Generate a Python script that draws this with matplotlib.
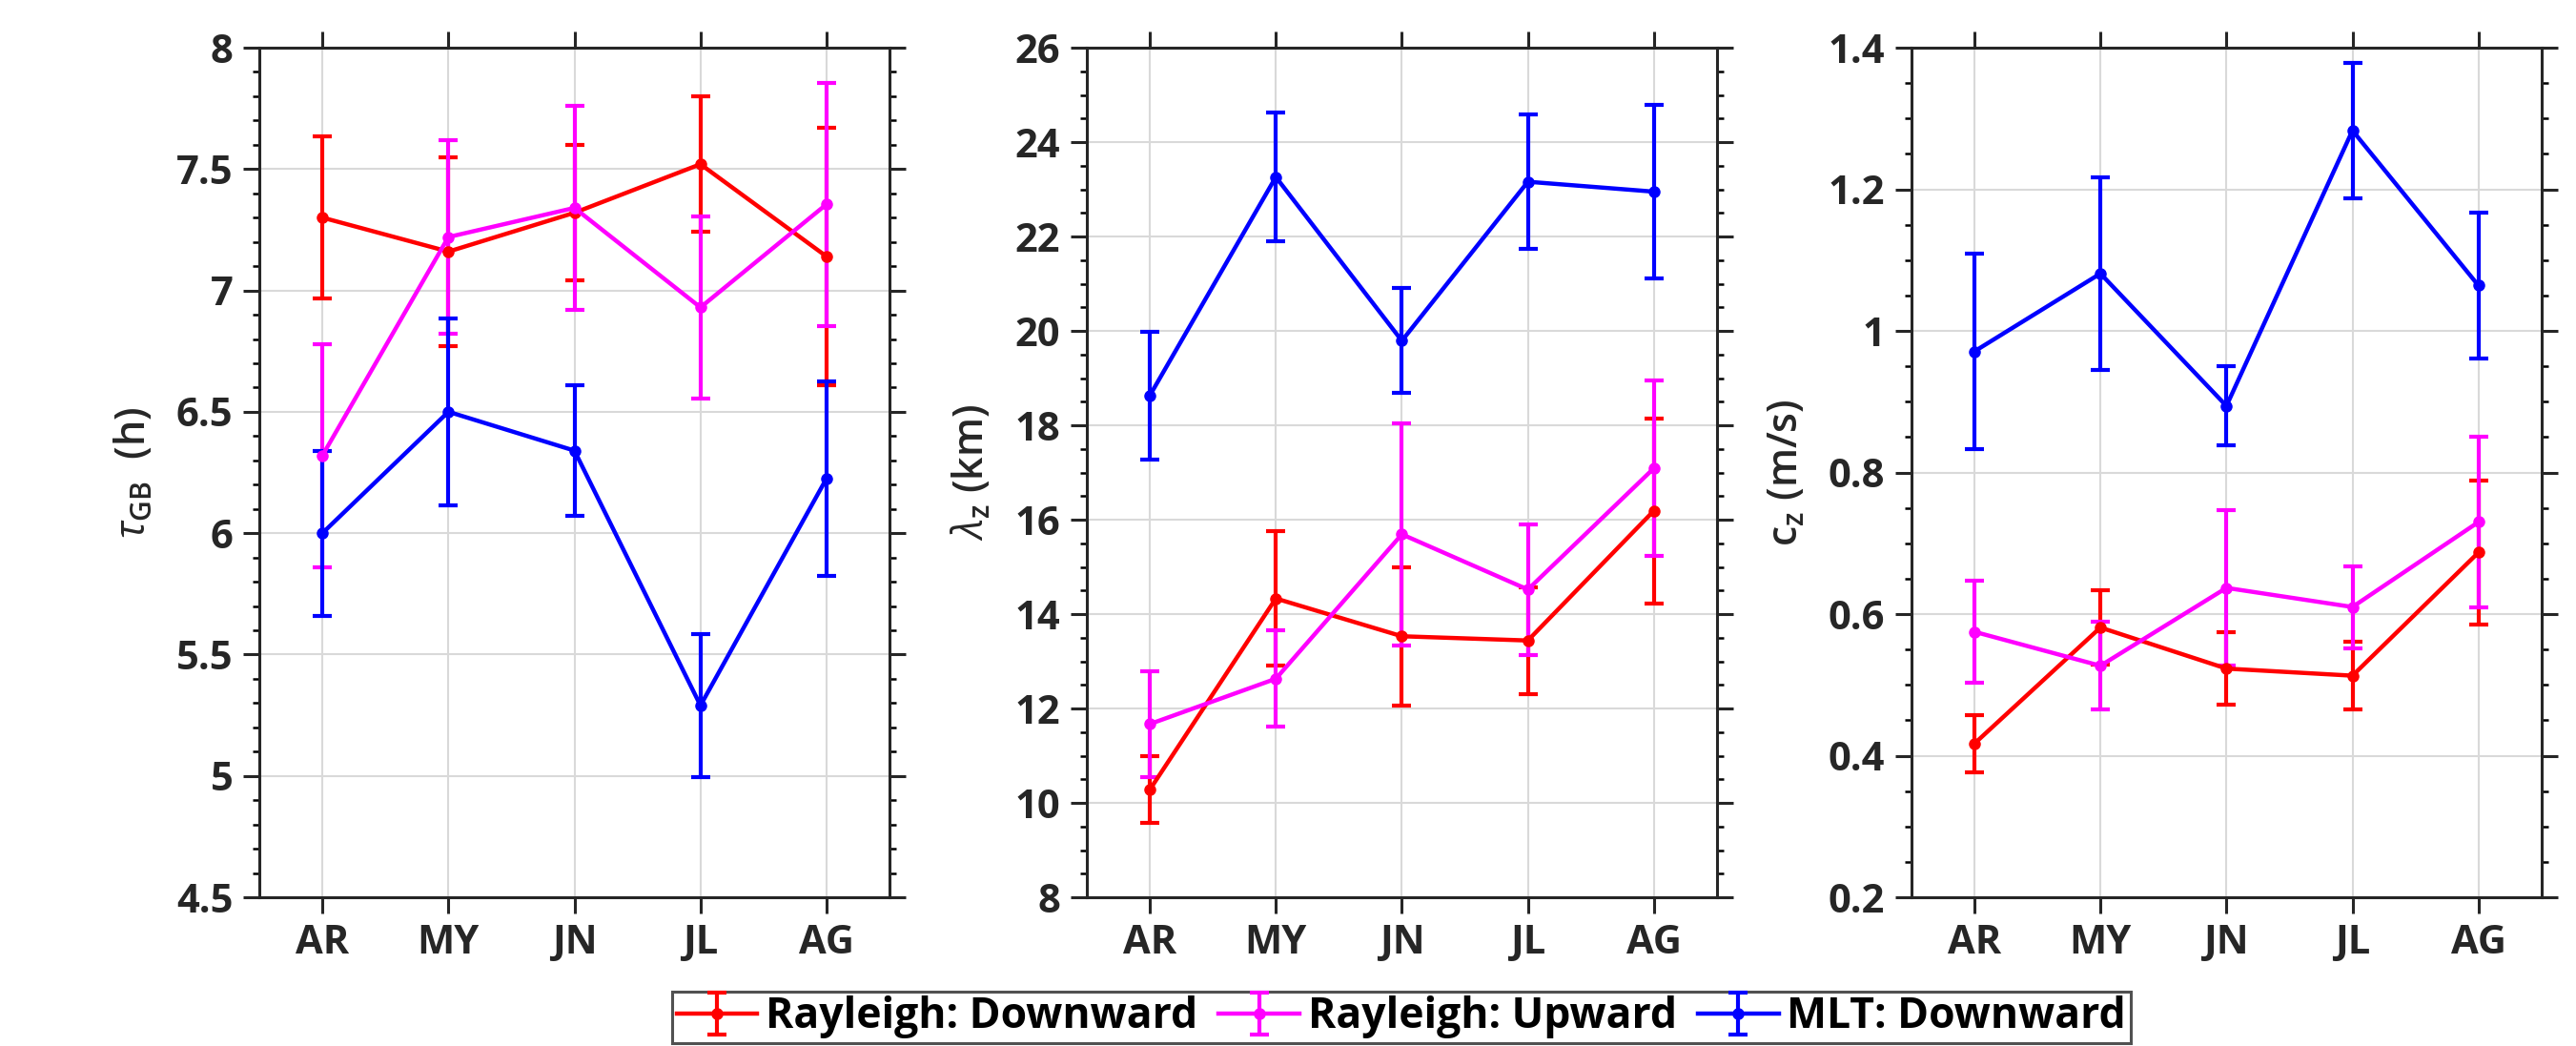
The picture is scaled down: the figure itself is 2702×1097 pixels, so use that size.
import numpy as np
import matplotlib.pyplot as plt
from matplotlib.ticker import MultipleLocator, FormatStrFormatter

months = ["AR", "MY", "JN", "JL", "AG"]
series = ["Rayleigh: Downward", "Rayleigh: Upward", "MLT: Downward"]
colors = ["red", "magenta", "blue"]

# tau_GB (h)
tau_ray_down = [7.30, 7.16, 7.32, 7.52, 7.14]
tau_ray_down_err = [0.335, 0.39, 0.28, 0.28, 0.53]
tau_ray_up = [6.32, 7.22, 7.34, 6.93, 7.355]
tau_ray_up_err = [0.46, 0.40, 0.42, 0.375, 0.50]
tau_mlt_down = [6.00, 6.50, 6.34, 5.29, 6.225]
tau_mlt_down_err = [0.34, 0.385, 0.27, 0.295, 0.40]

# lambda_z (km)
lam_ray_down = [10.28, 14.33, 13.53, 13.44, 16.19]
lam_ray_down_err = [0.70, 1.42, 1.47, 1.13, 1.96]
lam_ray_up = [11.67, 12.63, 15.69, 14.52, 17.09]
lam_ray_up_err = [1.12, 1.02, 2.36, 1.38, 1.86]
lam_mlt_down = [18.63, 23.26, 19.79, 23.16, 22.95]
lam_mlt_down_err = [1.35, 1.37, 1.11, 1.42, 1.83]

# c_z (m/s)
cz_ray_down = [0.417, 0.581, 0.523, 0.513, 0.687]
cz_ray_down_err = [0.040, 0.053, 0.051, 0.048, 0.102]
cz_ray_up = [0.575, 0.527, 0.637, 0.610, 0.730]
cz_ray_up_err = [0.072, 0.062, 0.110, 0.058, 0.121]
cz_mlt_down = [0.971, 1.081, 0.894, 1.283, 1.064]
cz_mlt_down_err = [0.138, 0.136, 0.056, 0.096, 0.103]

panels = [
    dict(vals=[tau_ray_down, tau_ray_up, tau_mlt_down],
         errs=[tau_ray_down_err, tau_ray_up_err, tau_mlt_down_err],
         ylabel=r"$\tau_{\mathrm{GB}}$  (h)", ylim=(4.5, 8), major=0.5, minor=0.1),
    dict(vals=[lam_ray_down, lam_ray_up, lam_mlt_down],
         errs=[lam_ray_down_err, lam_ray_up_err, lam_mlt_down_err],
         ylabel=r"$\lambda_\mathrm{z}$ (km)", ylim=(8, 26), major=2, minor=0.5),
    dict(vals=[cz_ray_down, cz_ray_up, cz_mlt_down],
         errs=[cz_ray_down_err, cz_ray_up_err, cz_mlt_down_err],
         ylabel=r"c$_\mathrm{z}$ (m/s)", ylim=(0.2, 1.4), major=0.2, minor=0.05),
]

plt.rcParams['font.family'] = ['Open Sans', 'DejaVu Sans']
plt.rcParams['mathtext.fontset'] = 'custom'
plt.rcParams['mathtext.rm'] = 'Open Sans:semibold'
plt.rcParams['mathtext.it'] = 'Open Sans:italic'

fig = plt.figure(figsize=(27.02, 10.97), dpi=100)
lefts = [0.1007, 0.4219, 0.7420]
x = np.arange(1, len(months) + 1)
handles = []

for left, p in zip(lefts, panels):
    ax = fig.add_axes([left, 0.1422, 0.2446, 0.8122])
    for vals, errs, c, name in zip(p["vals"], p["errs"], colors, series):
        h = ax.errorbar(x, vals, yerr=errs, color=c, lw=3.2, marker='o', ms=8,
                        capsize=7, capthick=3.0, elinewidth=3.0, label=name)
        if left == lefts[0]:
            handles.append(h)
    ax.set_xlim(0.5, 5.5)
    ax.set_ylim(*p["ylim"])
    ax.set_xticks(x)
    ax.set_xticklabels(months, fontweight='bold')
    ax.yaxis.set_major_locator(MultipleLocator(p["major"]))
    ax.yaxis.set_minor_locator(MultipleLocator(p["minor"]))
    ax.yaxis.set_major_formatter(FormatStrFormatter('%g'))
    for lab in ax.get_yticklabels():
        lab.set_fontweight('bold')
    ax.tick_params(axis='both', which='major', direction='out', length=12, width=2.2,
                   labelsize=30, colors='#262626', top=True, right=True, pad=8)
    ax.tick_params(axis='y', which='minor', direction='out', length=5, width=1.8,
                   left=True, right=True)
    ax.tick_params(axis='x', which='minor', bottom=False, top=False)
    for s in ax.spines.values():
        s.set_linewidth(2.2)
        s.set_color('#262626')
    ax.grid(True, which='major', color='#d9d9d9', lw=1.5)
    ax.set_axisbelow(True)
    ax.set_ylabel(p["ylabel"], fontsize=31, fontweight='semibold', color='#262626',
                  labelpad=16)

leg = fig.legend(handles=handles, loc='upper center', bbox_to_anchor=(0.544, 0.052),
                 ncol=3, frameon=True, fancybox=False, edgecolor='#262626',
                 prop={'weight': 'bold', 'size': 32}, handlelength=1.9,
                 handletextpad=0.2, columnspacing=0.5, borderpad=0.1,
                 borderaxespad=0)
leg.get_frame().set_linewidth(2.2)

fig.savefig("out.png", dpi=100)
